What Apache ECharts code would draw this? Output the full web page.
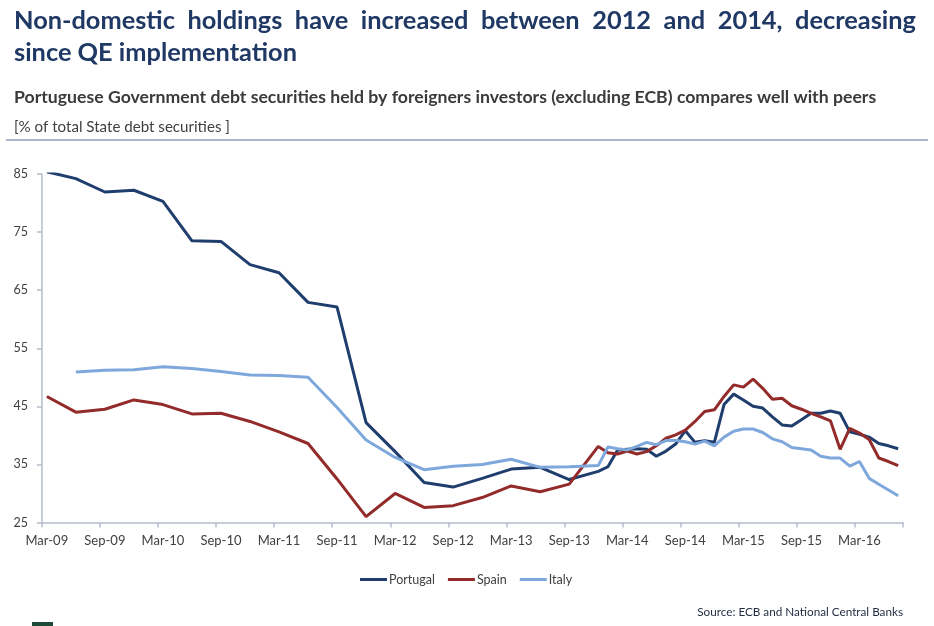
<!DOCTYPE html>
<html>
<head>
<meta charset="utf-8">
<script src="https://cdn.jsdelivr.net/npm/echarts@6/dist/echarts.min.js"></script>
<style>
html,body{margin:0;padding:0;background:#fff;}
#chart{width:934px;height:626px;}
</style>
</head>
<body>
<div id="chart"></div>
<script>
// ---- Data ----
const categories = [
 'Mar-09','Apr-09','May-09','Jun-09','Jul-09','Aug-09','Sep-09','Oct-09','Nov-09','Dec-09','Jan-10','Feb-10',
 'Mar-10','Apr-10','May-10','Jun-10','Jul-10','Aug-10','Sep-10','Oct-10','Nov-10','Dec-10','Jan-11','Feb-11',
 'Mar-11','Apr-11','May-11','Jun-11','Jul-11','Aug-11','Sep-11','Oct-11','Nov-11','Dec-11','Jan-12','Feb-12',
 'Mar-12','Apr-12','May-12','Jun-12','Jul-12','Aug-12','Sep-12','Oct-12','Nov-12','Dec-12','Jan-13','Feb-13',
 'Mar-13','Apr-13','May-13','Jun-13','Jul-13','Aug-13','Sep-13','Oct-13','Nov-13','Dec-13','Jan-14','Feb-14',
 'Mar-14','Apr-14','May-14','Jun-14','Jul-14','Aug-14','Sep-14','Oct-14','Nov-14','Dec-14','Jan-15','Feb-15',
 'Mar-15','Apr-15','May-15','Jun-15','Jul-15','Aug-15','Sep-15','Oct-15','Nov-15','Dec-15','Jan-16','Feb-16',
 'Mar-16','Apr-16','May-16','Jun-16','Jul-16'
];
const portugal = [
 85.4, null, null, 84.2, null, null, 81.9, null, null, 82.2, null, null,
 80.3, null, null, 73.5, null, null, 73.4, null, null, 69.4, null, null,
 68.0, null, null, 62.9, null, null, 62.1, null, null, 42.2, null, null,
 37.2, null, null, 31.9, null, null, 31.1, null, null, 32.6, null, null,
 34.2, null, null, 34.5, null, null, 32.4, null, null, 33.8, 34.6, 37.5,
 37.6, 37.7, 37.6, 36.4, 37.3, 38.5, 40.8, 38.8, 39.1, 38.8, 45.3, 47.1,
 46.1, 45.0, 44.7, 43.2, 41.8, 41.6, 42.7, 43.8, 43.8, 44.2, 43.8, 40.6,
 40.2, 39.7, 38.6, 38.2, 37.7
];
const spain = [
 46.7, null, null, 44.0, null, null, 44.5, null, null, 46.1, null, null,
 45.3, null, null, 43.7, null, null, 43.8, null, null, 42.4, null, null,
 40.6, null, null, 38.6, null, null, 32.5, null, null, 26.0, null, null,
 30.0, null, null, 27.6, null, null, 27.9, null, null, 29.3, null, null,
 31.3, null, null, 30.3, null, null, 31.6, null, null, 38.1, 37.0, 36.8,
 37.3, 36.8, 37.2, 38.2, 39.5, 40.1, 40.9, 42.4, 44.1, 44.4, 46.7, 48.7,
 48.3, 49.7, 48.1, 46.2, 46.4, 45.1, 44.5, 43.8, 43.2, 42.5, 37.6, 41.2,
 40.4, 39.3, 36.1, 35.5, 34.8
];
const italy = [
 null, null, null, 50.9, null, null, 51.2, null, null, 51.3, null, null,
 51.8, null, null, 51.5, null, null, 51.0, null, null, 50.4, null, null,
 50.3, null, null, 50.0, null, null, 44.8, null, null, 39.2, null, null,
 36.2, null, null, 34.1, null, null, 34.7, null, null, 35.0, null, null,
 35.9, null, null, 34.5, null, null, 34.6, null, null, 34.8, 38.0, 37.7,
 37.5, 38.1, 38.8, 38.4, 39.1, 39.1, 38.9, 38.5, 39.0, 38.2, 39.7, 40.7,
 41.1, 41.1, 40.5, 39.4, 38.9, 37.9, 37.7, 37.5, 36.4, 36.1, 36.1, 34.7,
 35.5, 32.6, 31.6, 30.6, 29.6
];
const seriesNames = ['Portugal', 'Spain', 'Italy'];
const yTicks = { min: 25, max: 85, interval: 10 };

const titleLine1 = 'Non-domestic holdings have increased between 2012 and 2014, decreasing';
const titleLine2 = 'since QE implementation';
const subtitle = 'Portuguese Government debt securities held by foreigners investors (excluding ECB) compares well with peers';
const unitText = '[% of total State debt securities ]';
const sourceText = 'Source: ECB and National Central Banks';

// ---- Styling / layout ----
const FAM = 'Lato, "Open Sans", sans-serif';
const colors = ['#1F3D6D', '#922B2A', '#7EA8DC'];
const navy = '#1F3864';
const gray = '#404040';

const ctx = document.createElement('canvas').getContext('2d');
function measure(text, weight, size) {
  ctx.font = weight + ' ' + size + 'px ' + FAM;
  return ctx.measureText(text).width;
}
function fitSize(text, weight, targetWidth) {
  return 20 * targetWidth / measure(text, weight, 20);
}

const graphics = [];
// Title: line 2 sets font size, line 1 justified to full width
const titleSize = fitSize(titleLine2, 'bold', 283);
const words = titleLine1.split(' ');
const wWidths = words.map(w => measure(w, 'bold', titleSize));
const sumW = wWidths.reduce((a, b) => a + b, 0);
const tLeft = 14, tRight = 916;
const gap = (tRight - tLeft - sumW) / (words.length - 1);
let cx = tLeft;
words.forEach((w, i) => {
  graphics.push({ type: 'text', style: { text: w, x: cx, y: 21, fill: navy,
    font: 'bold ' + titleSize.toFixed(2) + 'px ' + FAM, textAlign: 'left', textVerticalAlign: 'middle' } });
  cx += wWidths[i] + gap;
});
graphics.push({ type: 'text', style: { text: titleLine2, x: tLeft, y: 52.5, fill: navy,
  font: 'bold ' + titleSize.toFixed(2) + 'px ' + FAM, textAlign: 'left', textVerticalAlign: 'middle' } });
const subSize = fitSize(subtitle, 'bold', 863);
graphics.push({ type: 'text', style: { text: subtitle, x: 14, y: 97, fill: '#3A3A3A',
  font: 'bold ' + subSize.toFixed(2) + 'px ' + FAM, textAlign: 'left', textVerticalAlign: 'middle' } });
const unitSize = fitSize(unitText, 'normal', 216);
graphics.push({ type: 'text', style: { text: unitText, x: 14, y: 127.5, fill: gray,
  font: 'normal ' + unitSize.toFixed(2) + 'px ' + FAM, textAlign: 'left', textVerticalAlign: 'middle' } });
graphics.push({ type: 'line', shape: { x1: 6, y1: 140, x2: 928, y2: 140 },
  style: { stroke: '#A9B7CB', lineWidth: 2 } });
const srcSize = fitSize(sourceText, 'normal', 206);
graphics.push({ type: 'text', style: { text: sourceText, x: 903, y: 612, fill: '#1F2A40',
  font: 'normal ' + srcSize.toFixed(2) + 'px ' + FAM, textAlign: 'right', textVerticalAlign: 'middle' } });
graphics.push({ type: 'rect', shape: { x: 32, y: 622, width: 21, height: 4 }, style: { fill: '#1D4B38' } });

const chart = echarts.init(document.getElementById('chart'), null, { renderer: 'canvas' });
chart.setOption({
  animation: false,
  backgroundColor: '#fff',
  color: colors,
  graphic: graphics,
  grid: { left: 42, right: 31, top: 174, bottom: 103.5, containLabel: false },
  legend: {
    data: seriesNames, left: 360, top: 573, padding: 0,
    icon: 'rect', itemWidth: 27, itemHeight: 3, itemGap: 13,
    textStyle: { fontFamily: FAM, fontSize: 12.5, color: gray, padding: [0, 0, 0, -3] }
  },
  xAxis: {
    type: 'category', data: categories, boundaryGap: true,
    axisLine: { show: true, lineStyle: { color: '#B4BDCC', width: 1.5 } },
    axisTick: { show: true, interval: 5, length: 5, lineStyle: { color: '#B4BDCC', width: 1.5 } },
    axisLabel: { interval: 5, margin: 12, fontFamily: FAM, fontSize: 13, color: gray },
    splitLine: { show: false }
  },
  yAxis: {
    type: 'value', min: yTicks.min, max: yTicks.max, interval: yTicks.interval,
    axisLine: { show: true, lineStyle: { color: '#B4BDCC', width: 1.5 } },
    axisTick: { show: true, length: 5, lineStyle: { color: '#B4BDCC', width: 1.5 } },
    axisLabel: { margin: 14, fontFamily: FAM, fontSize: 12.5, color: gray },
    splitLine: { show: false }
  },
  series: [
    { name: seriesNames[0], type: 'line', data: portugal },
    { name: seriesNames[1], type: 'line', data: spain },
    { name: seriesNames[2], type: 'line', data: italy }
  ].map(s => Object.assign(s, {
    showSymbol: false, symbol: 'none', connectNulls: true, smooth: false,
    lineStyle: { width: 3 }
  }))
});
</script>
</body>
</html>
